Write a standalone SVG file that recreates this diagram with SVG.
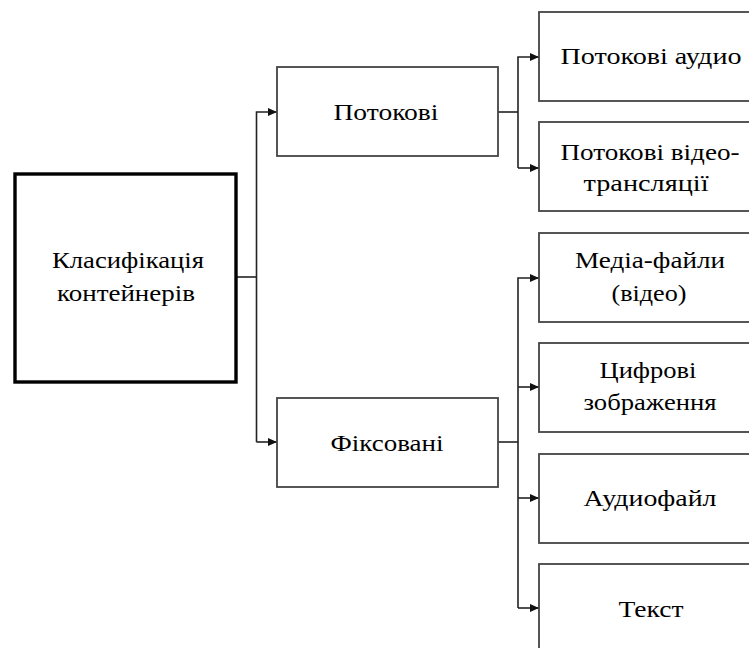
<svg xmlns="http://www.w3.org/2000/svg" width="749" height="648" viewBox="0 0 749 648">
<defs>
<marker id="arr" markerWidth="9" markerHeight="8" refX="9" refY="4" orient="auto" markerUnits="userSpaceOnUse">
<path d="M0,0 L9,4 L0,8 Z" fill="#111"/>
</marker>
<style>
.box{fill:#fff;stroke:#444;stroke-width:1.8}
.main{fill:#fff;stroke:#000;stroke-width:3.4}
.c{fill:none;stroke:#222;stroke-width:1.6}
text{font-family:'Times New Roman','Liberation Serif','DejaVu Serif',serif;font-size:24px;fill:#000;text-anchor:middle}
</style>
</defs>
<rect width="749" height="648" fill="#fff"/>
<g id="connectors">
<path class="c" d="M236,277 H256.5"/>
<path class="c" d="M256.5,442 V112 H277" marker-end="url(#arr)"/>
<path class="c" d="M256.5,442 H277" marker-end="url(#arr)"/>
<path class="c" d="M498,112 H518"/>
<path class="c" d="M518,168 V57 H539" marker-end="url(#arr)"/>
<path class="c" d="M518,168 H539" marker-end="url(#arr)"/>
<path class="c" d="M498,442 H518"/>
<path class="c" d="M518,608 V278 H539" marker-end="url(#arr)"/>
<path class="c" d="M518,387 H539" marker-end="url(#arr)"/>
<path class="c" d="M518,498 H539" marker-end="url(#arr)"/>
<path class="c" d="M518,608 H539" marker-end="url(#arr)"/>
</g>
<g id="n-root">
<rect class="main" x="15" y="174" width="221" height="208"/>
<text x="128" y="268" textLength="152" lengthAdjust="spacingAndGlyphs">Класифікація</text>
<text x="126" y="301" textLength="138" lengthAdjust="spacingAndGlyphs">контейнерів</text>
</g>
<g id="n-stream">
<rect class="box" x="277" y="67" width="221" height="89"/>
<text x="386" y="120" textLength="105" lengthAdjust="spacingAndGlyphs">Потокові</text>
</g>
<g id="n-fixed">
<rect class="box" x="277" y="398" width="221" height="89"/>
<text x="387" y="451" textLength="113" lengthAdjust="spacingAndGlyphs">Фіксовані</text>
</g>
<g id="n-audio-stream">
<rect class="box" x="539" y="12" width="221" height="89"/>
<text x="651" y="64" textLength="181" lengthAdjust="spacingAndGlyphs">Потокові аудио</text>
</g>
<g id="n-video-stream">
<rect class="box" x="539" y="122" width="221" height="89"/>
<text x="650" y="160" textLength="179" lengthAdjust="spacingAndGlyphs">Потокові відео-</text>
<text x="646" y="191" textLength="125" lengthAdjust="spacingAndGlyphs">трансляції</text>
</g>
<g id="n-media">
<rect class="box" x="539" y="233" width="221" height="89"/>
<text x="650" y="268" textLength="150" lengthAdjust="spacingAndGlyphs">Медіа-файли</text>
<text x="649" y="301" textLength="75" lengthAdjust="spacingAndGlyphs">(відео)</text>
</g>
<g id="n-images">
<rect class="box" x="539" y="343" width="221" height="89"/>
<text x="648" y="378" textLength="97" lengthAdjust="spacingAndGlyphs">Цифрові</text>
<text x="650" y="410" textLength="133" lengthAdjust="spacingAndGlyphs">зображення</text>
</g>
<g id="n-audiofile">
<rect class="box" x="539" y="454" width="221" height="89"/>
<text x="650" y="506" textLength="133" lengthAdjust="spacingAndGlyphs">Аудиофайл</text>
</g>
<g id="n-text">
<rect class="box" x="539" y="564" width="221" height="100"/>
<text x="651" y="617" textLength="65" lengthAdjust="spacingAndGlyphs">Текст</text>
</g>
</svg>
